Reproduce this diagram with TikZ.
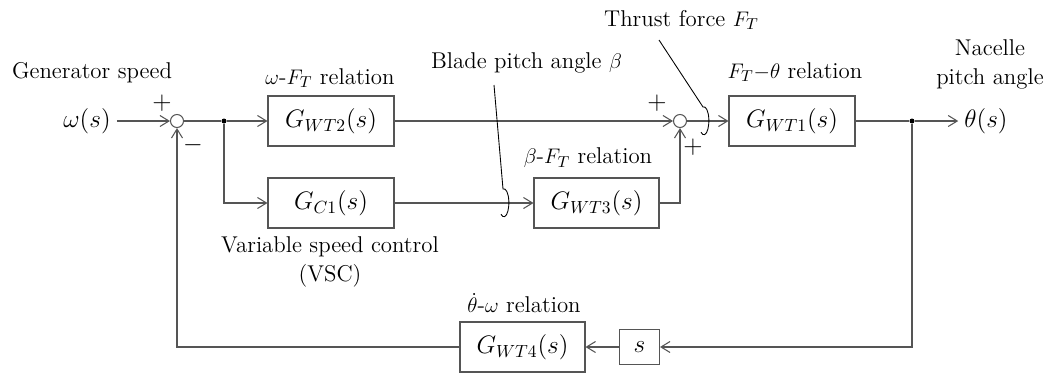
\documentclass[tikz,border=0pt]{standalone}
\usetikzlibrary{arrows.meta}
\definecolor{linegray}{RGB}{85,85,85}
\tikzset{
  sigarr/.style  = {-{Straight Barb[length=1.8mm,width=2.2mm]},linegray,line width=0.6pt},
  sigline/.style = {linegray,line width=0.6pt},
  block/.style   = {draw=linegray,line width=0.6pt,minimum width=2.52cm,minimum height=1cm,inner sep=0pt},
  sumnode/.style = {draw=linegray,line width=0.6pt,circle,minimum size=0.26cm,inner sep=0pt},
  dotnode/.style = {circle,fill=black,minimum size=0.1cm,inner sep=0pt},
  lbl/.style     = {font=\fontsize{13}{16.5}\selectfont},
  leader/.style  = {black,line width=0.5pt}
}

\begin{document}
\begin{tikzpicture}[x=0.02cm,y=-0.02cm,font=\fontsize{14.4}{17.5}\selectfont]
  \useasboundingbox (0,0) rectangle (1047,372);
  \node[lbl] (gen) at (92,73) {Generator speed};
  \node (win)  at (87,121) {$\omega(s)$};
  \node[sumnode] (sum1) at (177,121) {};
  \node[dotnode] (br1)  at (224,121) {};
  \node[block] (gwt2) at (331,121) {$G_{WT2}(s)$};
  \node[block] (gc1)  at (331,203) {$G_{C1}(s)$};
  \node[block,minimum width=2.5cm] (gwt3) at (596.5,203) {$G_{WT3}(s)$};
  \node[sumnode] (sum2) at (680,121) {};
  \node[block] (gwt1) at (792,121) {$G_{WT1}(s)$};
  \node[dotnode] (br2)  at (912,121) {};
  \node (thout) at (986,121) {$\theta(s)$};
  \node[block,minimum width=2.5cm] (gwt4) at (522.5,347) {$G_{WT4}(s)$};
  \node[block,minimum width=0.8cm,minimum height=0.7cm] (sblk) at (639.5,347) {$s$};

  \node[lbl] (lwt2) at (330,78)  {$\omega$-$F_T$ relation};
  \node[lbl] (lwt3) at (588,158) {$\beta$-$F_T$ relation};
  \node[lbl] (lwt1) at (795,72)  {$F_T{-}\theta$ relation};
  \node[lbl,inner sep=1pt] (lwt4) at (524,303) {$\dot{\theta}$-$\omega$ relation};
  \node[lbl,align=center] (lvsc) at (330,262) {Variable speed control\\(VSC)};
  \node[lbl,align=center] (lnac) at (990,64)  {Nacelle\\pitch angle};
  \node[lbl] (lbeta)   at (526.5,63) {Blade pitch angle $\beta$};
  \node[lbl] (lthrust) at (681.5,20) {Thrust force $F_T$};

  \node (p1) at (162,103) {$+$};
  \node (m1) at (193,145) {$-$};
  \node (p2) at (657,103) {$+$};
  \node (p3) at (693,147) {$+$};

  \draw[sigarr]  (win) -- (sum1);
  \draw[sigline] (sum1) -- (br1);
  \draw[sigarr]  (br1) -- (gwt2);
  \draw[sigarr]  (br1) |- (gc1);
  \draw[sigarr]  (gc1) -- (gwt3);
  \draw[sigarr]  (gwt2) -- (sum2);
  \draw[sigarr]  (gwt3) -| (sum2);
  \draw[sigarr]  (sum2) -- (gwt1);
  \draw[sigline] (gwt1) -- (br2);
  \draw[sigarr]  (br2) -- (thout);
  \draw[sigarr]  (br2) |- (sblk);
  \draw[sigarr]  (sblk) -- (gwt4);
  \draw[sigarr]  (gwt4) -| (sum1);

  \coordinate (bl1) at (494,85);
  \coordinate (bl2) at (503,189);
  \coordinate (th1) at (659,40);
  \coordinate (th2) at (703,107);
  \draw[leader] (bl1) -- (bl2) arc[start angle=-100,end angle=125,x radius=5,y radius=14];
  \draw[leader] (th1) -- (th2) arc[start angle=-100,end angle=125,x radius=5,y radius=14];
\end{tikzpicture}
\end{document}
